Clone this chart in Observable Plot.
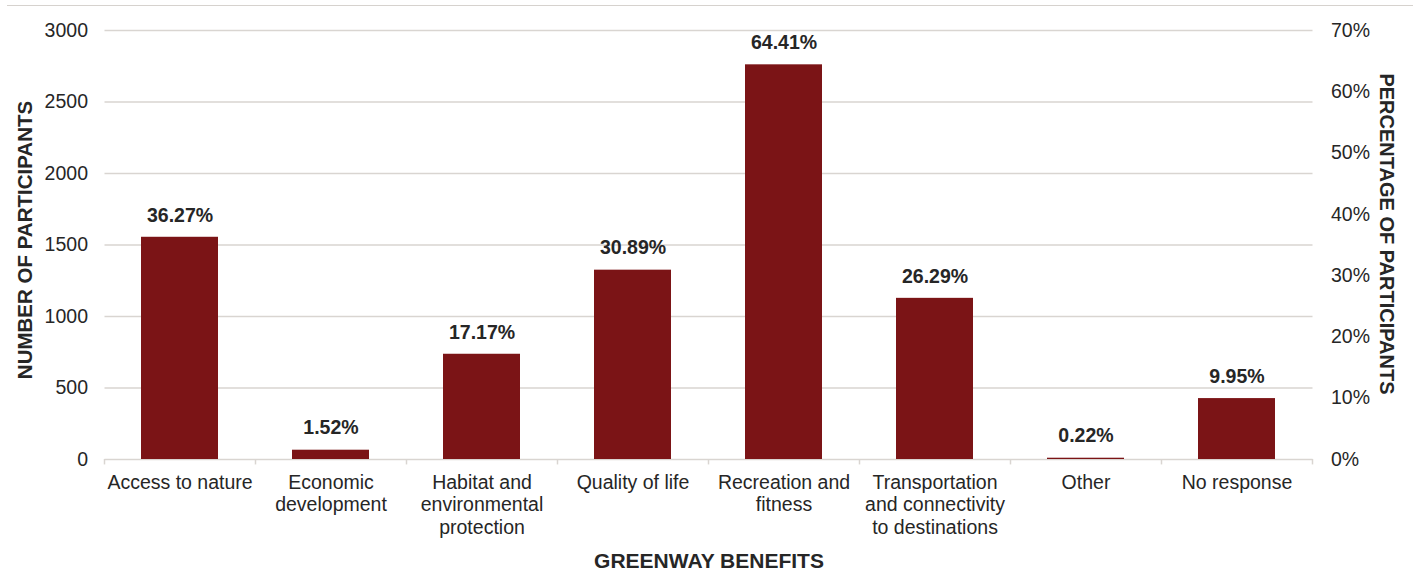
<!DOCTYPE html>
<html>
<head>
<meta charset="utf-8">
<script src="https://cdn.jsdelivr.net/npm/d3@7"></script>
<script src="https://cdn.jsdelivr.net/npm/@observablehq/plot@0.6"></script>
<style>
  html, body { margin: 0; padding: 0; background: #fff; }
  #wrap { position: relative; width: 1413px; height: 586px; }
  #topline { position: absolute; left: 7px; right: 0; top: 5px; height: 0; border-top: 1.5px solid #d6d2ce; }
  svg text { font-family: "Liberation Sans", Arial, sans-serif; }
</style>
</head>
<body>
<div id="wrap"><div id="topline"></div></div>
<script>
// ---- data ----
const categories = ["Access to nature", "Economic development", "Habitat and environmental protection", "Quality of life", "Recreation and fitness", "Transportation and connectivity to destinations", "Other", "No response"];
const tickLabels = ["Access to nature", "Economic\ndevelopment", "Habitat and\nenvironmental\nprotection", "Quality of life", "Recreation and\nfitness", "Transportation\nand connectivity\nto destinations", "Other", "No response"];
const counts = [1554, 65, 736, 1324, 2760, 1127, 9, 426];
const percents = [36.27, 1.52, 17.17, 30.89, 64.41, 26.29, 0.22, 9.95];
const totalParticipants = 4285;
const countTicks = [0, 500, 1000, 1500, 2000, 2500, 3000];
const percentTicks = [0, 10, 20, 30, 40, 50, 60, 70];

const data = categories.map((c, i) => ({category: c, count: counts[i], pct: percents[i]}));
const labelOf = new Map(categories.map((c, i) => [c, tickLabels[i]]));

const barColor = "#7b1416";
const gridColor = "#d9d5d1";
const textColor = "#262626";

const chart = Plot.plot({
  width: 1413,
  height: 586,
  marginLeft: 104.5,
  marginRight: 100.5,
  marginTop: 30,
  marginBottom: 127,
  style: {fontFamily: "'Liberation Sans', Arial, sans-serif", color: textColor, background: "transparent", overflow: "visible"},
  x: {domain: categories, paddingInner: 0.49, paddingOuter: 0.245},
  y: {domain: [0, 3000]},
  marks: [
    Plot.gridY(countTicks.filter(d => d > 0), {stroke: gridColor, strokeOpacity: 1, strokeWidth: 1.5}),
    Plot.ruleY([0], {stroke: gridColor, strokeWidth: 1.5}),
    Plot.ruleX(categories, {x: d => d, y1: 0, y2: -38, dx: -75.5, stroke: gridColor, strokeWidth: 1.5}),
    Plot.ruleX(categories.slice(-1), {x: d => d, y1: 0, y2: -38, dx: 75.5, stroke: gridColor, strokeWidth: 1.5}),
    Plot.barY(data, {x: "category", y: "count", fill: barColor}),
    Plot.text(data, {x: "category", y: "count", text: d => d.pct.toFixed(2) + "%", dy: -22, fontWeight: "bold", fontSize: 19.5, fill: textColor}),
    Plot.axisY(countTicks, {anchor: "left", tickSize: 0, tickPadding: 17, fontSize: 19.5, label: null, fill: textColor, tickFormat: d => String(d)}),
    Plot.axisY(percentTicks.map(p => p / 100 * totalParticipants), {anchor: "right", tickSize: 0, tickPadding: 18, fontSize: 19.5, label: null, fill: textColor,
      tickFormat: d => Math.round(d / totalParticipants * 100) + "%"}),
    Plot.axisX({tickSize: 0, tickPadding: 13, fontSize: 19.5, lineHeight: 1.16, label: null, fill: textColor, tickFormat: d => labelOf.get(d)}),
    Plot.text(["NUMBER OF PARTICIPANTS"], {frameAnchor: "left", dx: -80, rotate: -90, fontWeight: "bold", fontSize: 20.5, fill: textColor, textAnchor: "middle", lineAnchor: "middle", dy: -5}),
    Plot.text(["PERCENTAGE OF PARTICIPANTS"], {frameAnchor: "right", dx: 73, rotate: 90, fontWeight: "bold", fontSize: 20, fill: textColor, textAnchor: "middle", lineAnchor: "middle", dy: -11}),
    Plot.text(["GREENWAY BENEFITS"], {frameAnchor: "bottom", dy: 102, fontWeight: "bold", fontSize: 21, fill: textColor, textAnchor: "middle", lineAnchor: "middle"})
  ]
});
document.getElementById("wrap").appendChild(chart);
</script>
</body>
</html>
